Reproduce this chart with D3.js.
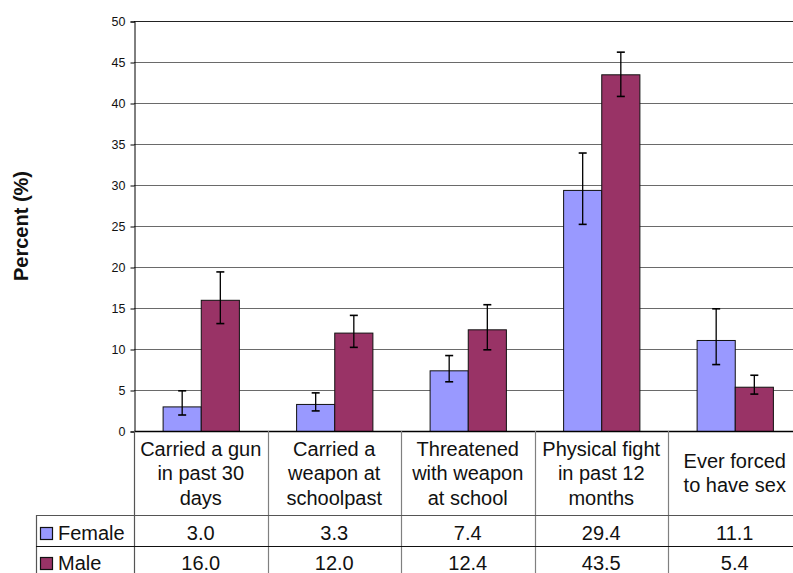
<!DOCTYPE html>
<html>
<head>
<meta charset="utf-8">
<script src="https://cdn.jsdelivr.net/npm/d3@7/dist/d3.min.js"></script>
<style>
  html, body { margin: 0; padding: 0; background: #fff; }
  svg { display: block; font-family: Arial, "Liberation Sans", sans-serif; }
</style>
</head>
<body>
<svg id="chart" width="793" height="573"></svg>
<script>
// ---- data ----
const categories = [
  ["Carried a gun", "in past 30", "days"],
  ["Carried a", "weapon at", "schoolpast"],
  ["Threatened", "with weapon", "at school"],
  ["Physical fight", "in past 12", "months"],
  ["Ever forced", "to have sex"]
];
const seriesNames = ["Female", "Male"];
const seriesColors = ["#9999FF", "#993366"];
const femaleValues = [3.0, 3.3, 7.4, 29.4, 11.1];
const maleValues = [16.0, 12.0, 12.4, 43.5, 5.4];
const femaleErrLow = [1.95, 2.45, 6.0, 25.2, 8.1];
const femaleErrHigh = [4.9, 4.65, 9.2, 33.9, 14.9];
const maleErrLow = [13.1, 10.2, 9.9, 40.8, 4.5];
const maleErrHigh = [19.4, 14.1, 15.4, 46.2, 6.8];
const yTicks = [0, 5, 10, 15, 20, 25, 30, 35, 40, 45, 50];
const yLabel = "Percent (%)";

const seriesValues = [femaleValues, maleValues];
const seriesLow = [femaleErrLow, maleErrLow];
const seriesHigh = [femaleErrHigh, maleErrHigh];

// ---- layout ----
const svg = d3.select("#chart");
const plotLeft = 134, plotRight = 801.5, plotTop = 21, plotBottom = 431;
const headerBottom = 515, row1Bottom = 546, row2Bottom = 577;
const legendLeft = 36;

const catIdx = categories.map((d, i) => i);
const x0 = d3.scaleBand().domain(catIdx).range([plotLeft, plotRight]).padding(0);
const x1 = d3.scaleBand().domain(seriesNames).range([0, x0.bandwidth()])
  .paddingInner(0).paddingOuter(0.75);
const y = d3.scaleLinear().domain([0, 50]).range([plotBottom, plotTop]);

// gridlines
svg.append("g").selectAll("line").data(yTicks.filter(t => t > 0)).join("line")
  .attr("x1", plotLeft).attr("x2", plotRight)
  .attr("y1", d => y(d) + 0.5).attr("y2", d => y(d) + 0.5)
  .attr("stroke", d => d === 50 ? "#222" : "#6a6a6a").attr("stroke-width", 1);

// y axis
const yAxis = d3.axisLeft(y).tickValues(yTicks).tickSize(4).tickPadding(5);
const gy = svg.append("g").attr("transform", `translate(${plotLeft + 0.5},0.5)`).call(yAxis);
gy.attr("font-family", "Arial, 'Liberation Sans', sans-serif").attr("font-size", "12.5px");
gy.select(".domain").attr("stroke", "#000");
gy.selectAll(".tick line").attr("stroke", "#000");
gy.selectAll(".tick text").attr("fill", "#111");

// bars
const groups = svg.append("g").selectAll("g").data(catIdx).join("g")
  .attr("transform", i => `translate(${x0(i)},0)`);
seriesNames.forEach((s, si) => {
  groups.append("rect")
    .attr("x", x1(s) + 0.5)
    .attr("y", i => y(seriesValues[si][i]) + 0.5)
    .attr("width", x1.bandwidth())
    .attr("height", i => y(0) - y(seriesValues[si][i]))
    .attr("fill", seriesColors[si])
    .attr("stroke", "#111").attr("stroke-width", 1);
});
// error bars
seriesNames.forEach((s, si) => {
  const cx = x1(s) + x1.bandwidth() / 2 + 0.5;
  groups.append("line")
    .attr("x1", cx).attr("x2", cx)
    .attr("y1", i => y(seriesLow[si][i])).attr("y2", i => y(seriesHigh[si][i]))
    .attr("stroke", "#000").attr("stroke-width", 1.3);
  ["low", "high"].forEach(k => {
    const arr = k === "low" ? seriesLow[si] : seriesHigh[si];
    groups.append("line")
      .attr("x1", cx - 4).attr("x2", cx + 4)
      .attr("y1", i => y(arr[i])).attr("y2", i => y(arr[i]))
      .attr("stroke", "#000").attr("stroke-width", 1.6);
  });
});

// x baseline
svg.append("line").attr("x1", plotLeft).attr("x2", plotRight)
  .attr("y1", plotBottom + 0.5).attr("y2", plotBottom + 0.5)
  .attr("stroke", "#000").attr("stroke-width", 1.3);

// ---- data table ----
const table = svg.append("g");
const bounds = catIdx.map(i => x0(i)).concat([plotRight]);
table.selectAll("line.v").data(bounds.slice(1)).join("line")
  .attr("x1", d => Math.round(d) + 0.5).attr("x2", d => Math.round(d) + 0.5)
  .attr("y1", plotBottom).attr("y2", row2Bottom)
  .attr("stroke", "#808080").attr("stroke-width", 1.2);
table.append("line").attr("x1", plotLeft + 0.5).attr("x2", plotLeft + 0.5)
  .attr("y1", plotBottom).attr("y2", row2Bottom).attr("stroke", "#555").attr("stroke-width", 1.2);
table.append("line").attr("x1", legendLeft + 0.5).attr("x2", legendLeft + 0.5)
  .attr("y1", headerBottom).attr("y2", row2Bottom).attr("stroke", "#555").attr("stroke-width", 1.2);
table.append("line").attr("x1", legendLeft).attr("x2", plotRight)
  .attr("y1", headerBottom + 0.5).attr("y2", headerBottom + 0.5).attr("stroke", "#555").attr("stroke-width", 1.2);
table.append("line").attr("x1", legendLeft).attr("x2", plotRight)
  .attr("y1", row1Bottom + 0.5).attr("y2", row1Bottom + 0.5).attr("stroke", "#111").attr("stroke-width", 1.2);

// header text
const lineH = 24.5, headerMid = 480;
categories.forEach((lines, i) => {
  const cx = x0(i) + x0.bandwidth() / 2;
  const t = table.append("text").attr("text-anchor", "middle")
    .attr("font-size", "20px").attr("fill", "#111");
  lines.forEach((ln, k) => {
    t.append("tspan").attr("x", cx)
      .attr("y", headerMid + (k - (lines.length - 1) / 2) * lineH).text(ln);
  });
});
// value rows
const rowBase = [540, 570];
seriesNames.forEach((s, si) => {
  table.selectAll(null).data(catIdx).join("text")
    .attr("x", i => x0(i) + x0.bandwidth() / 2)
    .attr("y", rowBase[si])
    .attr("text-anchor", "middle").attr("font-size", "20px").attr("fill", "#111")
    .text(i => seriesValues[si][i].toFixed(1));
  table.append("rect").attr("x", 40.5).attr("y", rowBase[si] - 12.5)
    .attr("width", 12).attr("height", 12)
    .attr("fill", seriesColors[si]).attr("stroke", "#111").attr("stroke-width", 1.2);
  table.append("text").attr("x", 58).attr("y", rowBase[si])
    .attr("font-size", "20px").attr("fill", "#111").text(s);
});

// y label
svg.append("text")
  .attr("transform", `translate(28,226) rotate(-90)`)
  .attr("text-anchor", "middle").attr("font-size", "20px").attr("font-weight", "bold")
  .attr("fill", "#111").text(yLabel);
</script>
</body>
</html>
